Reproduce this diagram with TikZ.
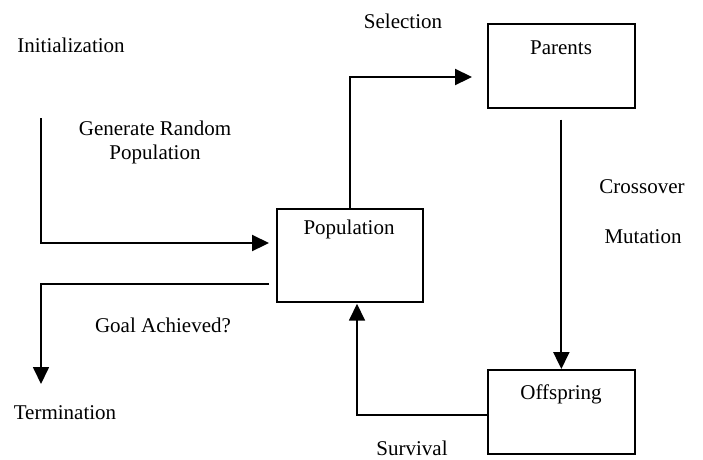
\documentclass[tikz,border=0pt]{standalone}
\usepackage{fontspec}
\setmainfont{Liberation Serif}
\usetikzlibrary{arrows.meta}
\begin{document}
\begin{tikzpicture}[x=1pt,y=-1pt,
  box/.style={draw,line width=1.7pt,minimum width=147pt,minimum height=84pt,inner sep=0pt},
  lbl/.style={font=\fontsize{21}{24}\selectfont,inner sep=0pt,align=center},
  flow/.style={line width=2.2pt,-{Triangle[length=17pt,width=16pt]}},
  thinflow/.style={line width=1.7pt,-{Triangle[length=17pt,width=16pt]}}]
\useasboundingbox[fill=white] (0,0) rectangle (703,459);
% boxes
\node[box,anchor=north west] (parents) at (487,23) {};
\node[box,anchor=north west,minimum width=146pt,minimum height=93pt] (pop) at (276,208) {};
\node[box,anchor=north west] (off) at (487,369) {};
% box texts
\node[lbl] (parentst) at (561,48) {Parents};
\node[lbl] (popt) at (349,229) {Population};
\node[lbl] (offt) at (561,394) {Offspring};
% free labels
\node[lbl] (init) at (71,45) {Initialization};
\node[lbl] (gen) at (155,142) {Generate Random\\Population};
\node[lbl] (sel) at (403,21) {Selection};
\node[lbl] (cross) at (642,187) {Crossover};
\node[lbl] (mut) at (643,237) {Mutation};
\node[lbl] (goal) at (163,325) {Goal Achieved?};
\node[lbl] (term) at (65,413) {Termination};
\node[lbl] (surv) at (412,448) {Survival};
% connectors
\coordinate (i0) at (41,118);
\coordinate (g1) at (41,384);
\draw[flow] (i0) |- ([shift={(-7,35)}]pop.north west);
\draw[thinflow] ([shift={(-7,76)}]pop.north west) -| (g1);
\draw[flow] (pop.north) |- ([shift={(-15,54)}]parents.north west);
\draw[flow] ([shift={(0,11)}]parents.south) -- (off.north);
\draw[thinflow] ([shift={(0,46)}]off.north west) -| ([shift={(81,1)}]pop.south west);
\end{tikzpicture}
\end{document}
